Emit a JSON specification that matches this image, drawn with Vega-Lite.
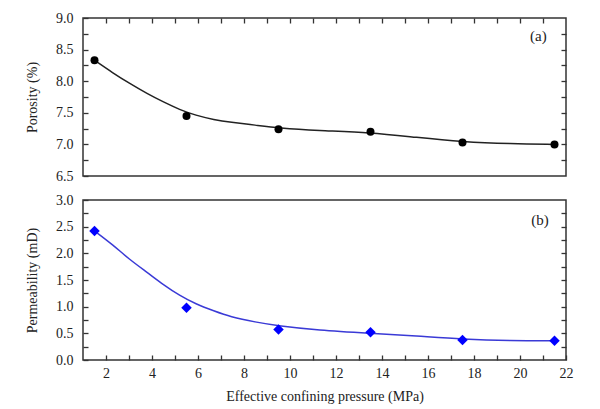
{
  "$schema": "https://vega.github.io/schema/vega-lite/v6.json",
  "padding": {"left": 24, "top": 10, "right": 10, "bottom": 2},
  "background": "white",
  "spacing": 8,
  "datasets": {
    "porosity": [
      {"pressure": 1.5, "porosity": 8.33},
      {"pressure": 5.5, "porosity": 7.45},
      {"pressure": 9.5, "porosity": 7.24},
      {"pressure": 13.5, "porosity": 7.2},
      {"pressure": 17.5, "porosity": 7.03},
      {"pressure": 21.5, "porosity": 7.0}
    ],
    "porosityFit": [
      {"pressure": 1.5, "porosity": 8.33},
      {"pressure": 2.3, "porosity": 8.13},
      {"pressure": 3.0, "porosity": 7.97},
      {"pressure": 3.8, "porosity": 7.8},
      {"pressure": 4.5, "porosity": 7.67},
      {"pressure": 5.2, "porosity": 7.55},
      {"pressure": 5.9, "porosity": 7.46},
      {"pressure": 6.7, "porosity": 7.39},
      {"pressure": 7.4, "porosity": 7.35},
      {"pressure": 8.5, "porosity": 7.305},
      {"pressure": 9.5, "porosity": 7.26},
      {"pressure": 11.2, "porosity": 7.22},
      {"pressure": 13.5, "porosity": 7.19},
      {"pressure": 15.5, "porosity": 7.11},
      {"pressure": 17.5, "porosity": 7.04},
      {"pressure": 19.6, "porosity": 7.01},
      {"pressure": 21.5, "porosity": 7.0}
    ],
    "perm": [
      {"pressure": 1.5, "permeability": 2.42},
      {"pressure": 5.5, "permeability": 0.98},
      {"pressure": 9.5, "permeability": 0.57},
      {"pressure": 13.5, "permeability": 0.52},
      {"pressure": 17.5, "permeability": 0.375},
      {"pressure": 21.5, "permeability": 0.36}
    ],
    "permFit": [
      {"pressure": 1.5, "permeability": 2.42},
      {"pressure": 2.3, "permeability": 2.16},
      {"pressure": 3.0, "permeability": 1.89},
      {"pressure": 3.8, "permeability": 1.64},
      {"pressure": 4.5, "permeability": 1.41},
      {"pressure": 5.2, "permeability": 1.21},
      {"pressure": 5.9, "permeability": 1.05},
      {"pressure": 6.7, "permeability": 0.92},
      {"pressure": 7.4, "permeability": 0.81},
      {"pressure": 8.5, "permeability": 0.71},
      {"pressure": 9.5, "permeability": 0.64},
      {"pressure": 11.2, "permeability": 0.56},
      {"pressure": 13.5, "permeability": 0.5},
      {"pressure": 15.5, "permeability": 0.45},
      {"pressure": 17.5, "permeability": 0.39},
      {"pressure": 19.6, "permeability": 0.36},
      {"pressure": 21.5, "permeability": 0.36}
    ],
    "labelA": [{"label": "(a)"}],
    "labelB": [{"label": "(b)"}]
  },
  "vconcat": [
    {
      "width": 483,
      "height": 158,
      "resolve": {"axis": {"x": "independent", "y": "independent"}},
      "layer": [
        {
          "data": {"name": "porosityFit"},
          "mark": {"type": "line", "interpolate": "basis", "color": "#222", "strokeWidth": 1.5},
          "encoding": {
            "x": {"field": "pressure", "type": "quantitative",
              "scale": {"domain": [1, 22], "nice": false, "zero": false},
              "axis": {"orient": "top", "title": null, "labels": false,
                "values": [2,3,4,5,6,7,8,9,10,11,12,13,14,15,16,17,18,19,20,21],
                "tickSize": -5,
                "encode": {"ticks": {"update": {"y2": {"signal": "datum.value % 2 === 0 ? 5 : 3"}}}}}},
            "y": {"field": "porosity", "type": "quantitative",
              "scale": {"domain": [6.5, 9.0], "nice": false, "zero": false},
              "axis": {"orient": "right", "title": null, "labels": false,
                "values": [6.75,7,7.25,7.5,7.75,8,8.25,8.5,8.75],
                "tickSize": -5,
                "encode": {"ticks": {"update": {"x2": {"signal": "(datum.value*2) % 1 === 0 ? -5 : -3"}}}}}}
          }
        },
        {
          "data": {"name": "porosity"},
          "mark": {"type": "point", "shape": "circle", "filled": true, "size": 64, "color": "#000", "opacity": 1},
          "encoding": {
            "x": {"field": "pressure", "type": "quantitative", "axis": null},
            "y": {"field": "porosity", "type": "quantitative",
              "axis": {"orient": "left", "title": "Porosity (%)", "titlePadding": 16,
                "values": [6.5,6.75,7,7.25,7.5,7.75,8,8.25,8.5,8.75,9],
                "labelExpr": "(datum.value*2) % 1 === 0 ? format(datum.value, '.1f') : ''",
                "tickSize": -5, "labelPadding": 15,
                "encode": {"ticks": {"update": {"x2": {"signal": "(datum.value*2) % 1 === 0 ? 5 : 3"}}}}}}
          }
        },
        {
          "data": {"name": "labelA"},
          "mark": {"type": "text", "font": "Liberation Serif", "fontSize": 15, "color": "#222", "align": "center", "baseline": "middle"},
          "encoding": {
            "x": {"datum": 20.8, "type": "quantitative", "axis": null},
            "y": {"datum": 8.71, "type": "quantitative", "axis": null},
            "text": {"field": "label"}
          }
        }
      ]
    },
    {
      "width": 483,
      "height": 160,
      "resolve": {"axis": {"x": "independent", "y": "independent"}},
      "layer": [
        {
          "data": {"name": "permFit"},
          "mark": {"type": "line", "interpolate": "basis", "color": "#3a3ad6", "strokeWidth": 1.5},
          "encoding": {
            "x": {"field": "pressure", "type": "quantitative",
              "scale": {"domain": [1, 22], "nice": false, "zero": false},
              "axis": {"orient": "bottom", "title": "Effective confining pressure (MPa)", "titlePadding": 9,
                "values": [2,3,4,5,6,7,8,9,10,11,12,13,14,15,16,17,18,19,20,21,22],
                "labelExpr": "datum.value % 2 === 0 ? datum.label : ''",
                "tickSize": -5, "labelPadding": 11,
                "encode": {"ticks": {"update": {"y2": {"signal": "datum.value % 2 === 0 ? -5 : -3"}}}}}},
            "y": {"field": "permeability", "type": "quantitative",
              "scale": {"domain": [0, 3.0], "nice": false, "zero": false},
              "axis": {"orient": "right", "title": null, "labels": false,
                "values": [0.25,0.5,0.75,1,1.25,1.5,1.75,2,2.25,2.5,2.75],
                "tickSize": -5,
                "encode": {"ticks": {"update": {"x2": {"signal": "(datum.value*2) % 1 === 0 ? -5 : -3"}}}}}}
          }
        },
        {
          "data": {"name": "perm"},
          "mark": {"type": "point", "shape": "diamond", "filled": true, "size": 110, "color": "#0000ff", "opacity": 1},
          "encoding": {
            "x": {"field": "pressure", "type": "quantitative", "axis": null},
            "y": {"field": "permeability", "type": "quantitative",
              "axis": {"orient": "left", "title": "Permeability (mD)", "titlePadding": 16,
                "values": [0,0.25,0.5,0.75,1,1.25,1.5,1.75,2,2.25,2.5,2.75,3],
                "labelExpr": "(datum.value*2) % 1 === 0 ? format(datum.value, '.1f') : ''",
                "tickSize": -5, "labelPadding": 15,
                "encode": {"ticks": {"update": {"x2": {"signal": "(datum.value*2) % 1 === 0 ? 5 : 3"}}}}}}
          }
        },
        {
          "data": {"name": "labelB"},
          "mark": {"type": "text", "font": "Liberation Serif", "fontSize": 15, "color": "#222", "align": "center", "baseline": "middle"},
          "encoding": {
            "x": {"datum": 20.87, "type": "quantitative", "axis": null},
            "y": {"datum": 2.63, "type": "quantitative", "axis": null},
            "text": {"field": "label"}
          }
        }
      ]
    }
  ],
  "config": {
    "view": {"stroke": "#333", "strokeWidth": 1.5},
    "axis": {
      "labelFont": "Liberation Serif", "titleFont": "Liberation Serif",
      "labelFontSize": 14, "titleFontSize": 14, "titleFontWeight": "normal",
      "labelColor": "#222", "titleColor": "#222",
      "tickColor": "#333", "tickWidth": 1.3,
      "domain": false, "grid": false, "labelFlush": false, "labelOverlap": false
    }
  }
}
